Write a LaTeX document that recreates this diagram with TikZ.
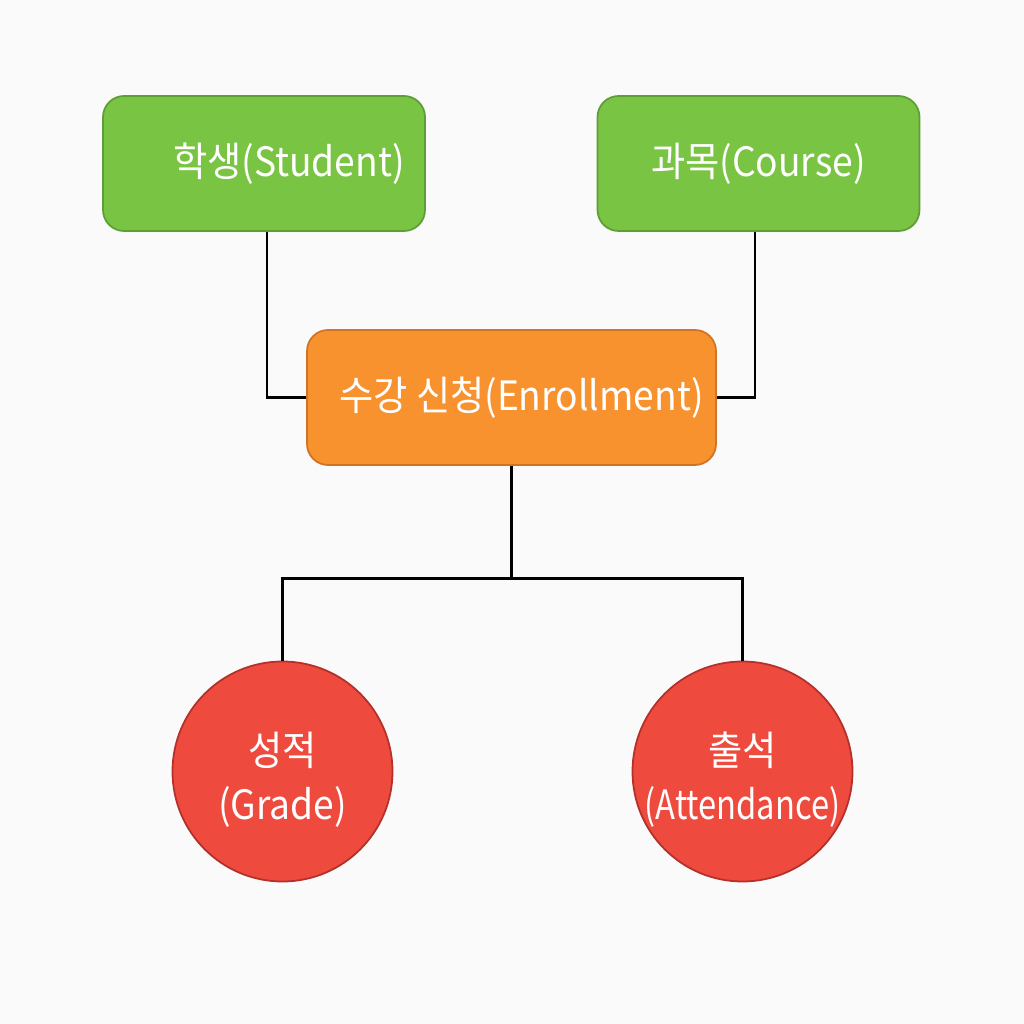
\documentclass[tikz,border=0pt]{standalone}
\usepackage{fontspec}
\setmainfont[FakeStretch=0.92]{Noto Sans CJK KR}
\newfontfamily\narrowkr[FakeStretch=0.81]{Noto Sans CJK KR}
\usepackage{xcolor}
\usetikzlibrary{positioning,calc}

\definecolor{bgpaper}{HTML}{FAFAFA}
\definecolor{entgreen}{HTML}{7AC443}
\definecolor{entgreenline}{HTML}{5E9E36}
\definecolor{relorange}{HTML}{F7922F}
\definecolor{relorangeline}{HTML}{CF7424}
\definecolor{attred}{HTML}{EE4A3E}
\definecolor{attredline}{HTML}{B3312A}

\newcommand{\toppad}{\rule{0pt}{14.3pt}}

\begin{document}
\begin{tikzpicture}[
  every node/.style={font=\fontsize{11.5pt}{14pt}\selectfont, text=white},
  entbox/.style={draw=entgreenline, fill=entgreen, line width=0.5pt,
                 rounded corners=6pt, minimum width=3.22cm, minimum height=1.35cm},
  relbox/.style={draw=relorangeline, fill=relorange, line width=0.5pt,
                 rounded corners=6pt, minimum width=4.09cm, minimum height=1.35cm},
  attcirc/.style={circle, draw=attredline, fill=attred, line width=0.5pt,
                  minimum size=2.2cm, inner sep=-3pt, align=center,
                  font=\fontsize{11.5pt}{15.5pt}\selectfont},
  link/.style={black, line width=0.8pt},
]

%% ── Canvas ─────────────────────────────────────────────────────────────
\fill[bgpaper] (0,0) rectangle (10.24,10.24);
\useasboundingbox (0,0) rectangle (10.24,10.24);

%% ── Entities ───────────────────────────────────────────────────────────
\node[entbox] (stu) at (2.64, 8.605) {\hspace{0.5cm}학생(Student)};
\node[entbox] (crs) at (7.585, 8.605) {과목(Course)};

%% ── Relationship ───────────────────────────────────────────────────────
\node[relbox] (enr) at (5.115, 6.265) {\hspace{0.2cm}수강 신청(Enrollment)};

%% ── Attributes ─────────────────────────────────────────────────────────
\node[attcirc] (grd) at (2.825, 2.525) {\toppad 성적\\(Grade)};
\node[attcirc] (att) at (7.425, 2.525) {\toppad 출석\\{\narrowkr(Attendance)}};

%% ── Connectors ─────────────────────────────────────────────────────────
\draw[link] ([xshift=0.3mm]stu.south) |- (enr.west);
\draw[link] ([xshift=-0.35mm]crs.south) |- (enr.east);
\draw[link] (enr.south) -- ++(0,-1.13) coordinate (jn);
\draw[link] (jn) -| (grd.north);
\draw[link] (jn) -| (att.north);

\end{tikzpicture}
\end{document}
